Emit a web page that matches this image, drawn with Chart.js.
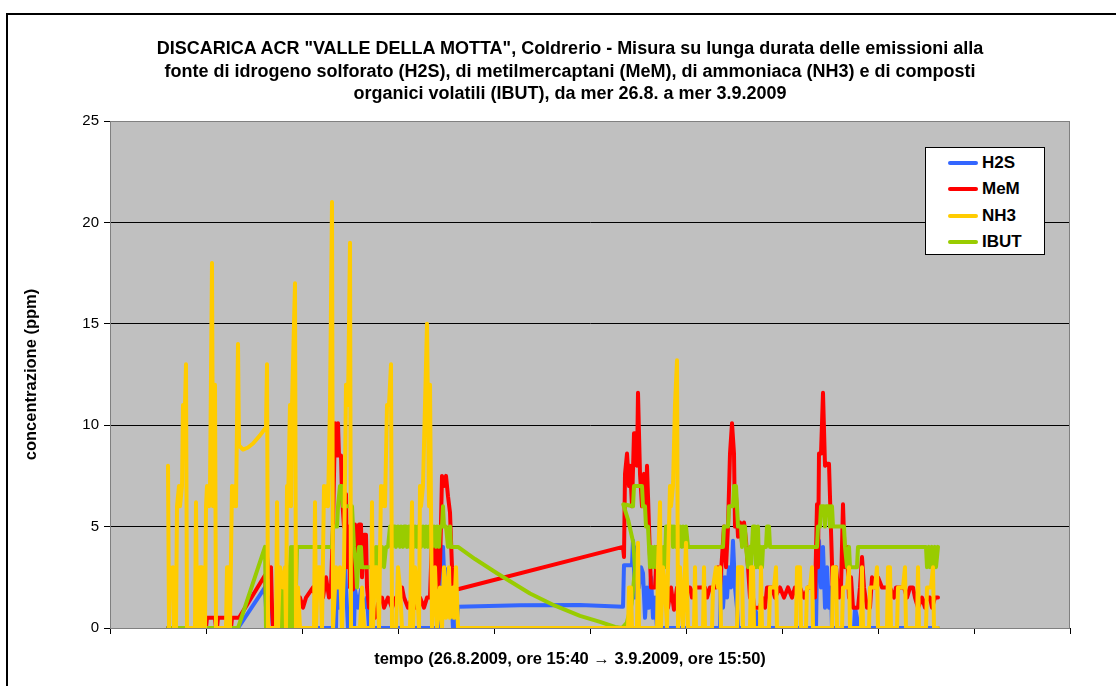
<!DOCTYPE html>
<html>
<head>
<meta charset="utf-8">
<script src="https://cdn.jsdelivr.net/npm/chart.js@4.4.0/dist/chart.umd.min.js"></script>
<style>
    html, body { margin: 0; padding: 0; background: #fff; overflow: hidden; }
    body { width: 1116px; height: 686px; position: relative; font-family: "Liberation Sans", Arial, sans-serif; }
    #frame { position: absolute; left: 6px; top: 13px; width: 1200px; height: 800px; border: 2px solid #000; }
    #chart { position: absolute; left: 0; top: 0; }
    #title { position: absolute; left: 0; top: 37px; width: 1140px; text-align: center; font-weight: bold; font-size: 18px; line-height: 22.5px; color: #000; }
    #xtitle { position: absolute; left: 0; top: 648px; width: 1140px; text-align: center; font-weight: bold; font-size: 16.5px; line-height: 20px; color: #000; }
    #legend { position: absolute; left: 925px; top: 147px; width: 118px; height: 106px; border: 1px solid #000; background: #fff; }
    .item { position: absolute; left: 0; height: 26px; line-height: 26px; font-weight: bold; font-size: 17px; color: #000; }
    .item span { position: absolute; left: 22px; top: 11px; width: 30px; height: 4px; border-radius: 2px; }
    .item b { position: absolute; left: 56px; top: 0; white-space: nowrap; }
</style>
</head>
<body>
<div id="frame"></div>
<canvas id="chart" width="1116" height="686"></canvas>
<div id="title">DISCARICA ACR "VALLE DELLA MOTTA", Coldrerio - Misura su lunga durata delle emissioni alla<br>fonte di idrogeno solforato (H2S), di metilmercaptani (MeM), di ammoniaca (NH3) e di composti<br>organici volatili (IBUT), da mer 26.8. a mer 3.9.2009</div>
<div id="xtitle">tempo (26.8.2009, ore 15:40 → 3.9.2009, ore 15:50)</div>
<div id="legend"></div>

<script>
// time in quarter hours from the axis start (one day = 96), values in ppm
const seriesNames = ["H2S", "MeM", "NH3", "IBUT"];
const seriesColors = ["#3366FF", "#FF0000", "#FFCC00", "#99CC00"];
const yTicks = [0, 5, 10, 15, 20, 25];

const h2sT = [58, 128, 155, 156, 158, 161, 163, 226, 227, 229, 231, 233, 235, 237, 238, 244, 245, 248, 251, 254, 257, 259,
    330, 331, 333, 335, 337, 339, 341, 343, 346, 348, 410, 470, 513, 514, 522, 523, 525, 527, 529, 531, 533, 535, 537, 539,
    541, 543, 545, 547, 610, 611, 613, 615, 617, 619, 621, 623, 625, 627, 628, 642, 643, 646, 647, 706, 707, 709, 711, 713,
    715, 717, 719, 721, 722, 744, 745, 747, 748, 828];
const h2sV = [0, 0, 2, 1, 1.5, 1.5, 0, 0, 2.9, 1, 2.9, 1.5, 2.9, 1, 0, 0, 1.9, 1, 1.9, 1, 1.5, 0,
    0, 2.9, 4, 1.5, 2.9, 1, 2, 0, 0, 1.05, 1.12, 1.13, 1.05, 3.1, 3.1, 4.3, 1.5, 4, 2, 3, 2.7, 0.5, 2, 1,
    2.5, 0.5, 1.5, 0, 0, 3, 1, 2.5, 1.5, 3, 2, 4.3, 2, 1, 0, 0, 0.8, 0.8, 0, 0, 3, 4.3, 2, 4,
    1, 3, 1, 2, 0, 0, 1, 0.5, 0, 0];

const memT = [58, 96, 97, 105, 106, 107, 108, 117, 118, 121, 122, 129, 155, 156, 157, 159, 161, 162, 163, 171, 172, 174,
    176, 178, 180, 190, 193, 196, 203, 206, 210, 213, 216, 219, 221, 223, 225, 227, 228, 229, 231, 232, 234, 236, 237, 239,
    240, 243, 245, 247, 249, 251, 252, 254, 256, 257, 259, 262, 265, 268, 272, 274, 278, 282, 286, 290, 292, 294, 298, 302,
    306, 310, 314, 317, 320, 322, 324, 326, 328, 330, 332, 334, 336, 338, 340, 342, 344, 346, 347,
    513, 514, 515, 517, 519, 520, 522, 524, 526, 527, 528, 530, 532, 534, 536, 537, 539, 541, 545, 547, 550, 555, 558, 561,
    564, 567, 580, 582, 585, 595, 597, 600, 606, 608, 610, 612, 614, 616, 618, 620, 622, 624, 625, 626, 628, 630, 632, 634,
    636, 638, 640, 642, 644, 650, 652, 655, 657, 662, 665, 670, 674, 678, 682, 685, 690, 694, 698, 703, 705, 707, 708, 709,
    711, 713, 715, 717, 719, 721, 723, 726, 729, 731, 733, 735, 737, 739, 741, 743, 748, 750, 752, 754, 757, 760, 762, 765,
    768, 772, 776, 780, 784, 786, 794, 797, 800, 803, 805, 808, 812, 815, 817, 820, 822, 825, 828];
const memV = [0, 0, 0.5, 0.5, 0, 0, 0.5, 0.5, 0, 0, 0.5, 0.5, 2.6, 1.5, 3.5, 2.5, 3, 1, 0, 0, 1.5, 2,
    1, 2, 1.5, 1.5, 1, 1.5, 2, 1.5, 2.5, 1.5, 2.5, 1.5, 2, 5, 10.1, 8.5, 10.1, 8.5, 8.5, 6.5, 5, 6.6, 3, 5,
    2, 1.9, 5.1, 3, 5.1, 5.1, 2.5, 4.6, 4.6, 2, 1, 1.2, 0.5, 1.2, 1.5, 1, 1.5, 1, 1.5, 1.5, 2, 1.5, 1, 1.5,
    1, 1.5, 1, 1.5, 1.5, 4.5, 3, 4.5, 2, 3, 7.5, 7, 7.5, 6.5, 5.7, 3, 1.5, 2, 1.9,
    4, 3.5, 7.6, 8.6, 7, 8, 6, 9.6, 9.6, 8, 11.6, 7.6, 6, 7.6, 6, 8, 5, 2, 2, 4, 2, 2, 1, 2,
    0.9, 2, 2, 1.5, 2, 2, 1.5, 2, 2, 3, 2, 3.5, 5, 3, 5, 8.6, 10.1, 8.6, 5, 6.5, 4.5, 5.2, 4.2, 5.2,
    4.3, 3, 1.5, 2, 1, 1, 1.5, 1, 2, 2, 1.5, 2, 1.5, 2, 1.5, 2, 2, 1.5, 2, 2, 1.5, 6.1, 3, 8.6,
    8.6, 11.6, 8, 8.1, 8.1, 4.8, 1.5, 3, 1.5, 2, 6.1, 3, 4, 1.5, 2.5, 1, 1, 2, 3.5, 2, 1, 1, 2.5, 2,
    2.5, 2, 2, 2, 1.5, 2, 2, 1.5, 2, 2, 1.5, 1, 1.5, 1, 1.5, 1.5, 1, 1.5, 1.5];

const nh3T = [58, 59, 60, 62, 63, 64, 66, 67, 69, 70, 72, 73, 75, 76, 77,
    85, 86, 87, 89, 90, 92, 93, 95, 96, 97, 99, 100, 102, 103, 105, 106,
    116, 117, 119, 120, 122, 123, 125, 126, 128, 129, 133, 138, 143, 150, 156, 157, 158,
    166, 167, 168, 170, 173, 175, 176, 177, 178, 180, 181, 182, 185, 186, 188, 190,
    204, 205, 206, 208, 210, 212, 214, 215, 217, 218, 220, 222, 223, 226, 228, 230, 232, 234, 236, 238, 240, 241,
    250, 252, 254, 261, 262, 263, 265, 267, 269, 271, 272, 274, 275, 277, 279, 281, 282,
    286, 288, 290, 292, 300, 302, 303, 305, 307, 309, 310, 311, 313, 315, 317, 319, 320, 322,
    325, 327, 330, 332, 334, 336, 339, 340, 343, 344, 346, 348,
    515, 518, 519, 521, 522, 527, 528, 529,
    547, 548, 550, 551, 553, 555, 557, 558, 560, 561, 563, 565, 567, 568,
    570, 573, 576, 578, 584, 585, 586, 593, 594, 595, 602, 603, 606, 608, 610, 611,
    627, 628, 632, 633, 640, 641, 643, 644, 650, 651, 652, 659, 660, 664, 666, 667,
    686, 687, 690, 691, 696, 697, 700, 702, 703, 722, 723, 726, 727, 732, 733, 737, 739, 740,
    751, 752, 753, 759, 760, 765, 767, 768, 777, 778, 780, 781, 787, 788, 793, 795, 796,
    807, 808, 809, 816, 817, 821, 823, 824, 828];
const nh3V = [8, 0, 3, 2, 3, 0, 0, 6, 7, 6, 7, 11, 11, 13, 0,
    0, 6.2, 0, 0, 3, 3, 0, 0, 6, 7, 6, 7, 18, 6, 12, 0,
    0, 3, 3, 0, 7, 6, 7, 6, 14, 9, 8.8, 8.9, 9.1, 9.5, 9.9, 13, 0,
    0, 6.2, 0, 3, 2, 3, 0, 7, 6, 11, 6, 11, 17, 0, 2, 0,
    0, 6.2, 0, 3, 3, 0, 7, 6, 7, 6, 11, 21, 0, 3, 2, 3, 0, 3, 12, 11, 19, 0,
    0, 2, 0, 0, 6.2, 0, 3, 3, 0, 7, 6, 7, 6, 11, 11, 13, 0,
    0, 3, 2, 0, 0, 6.2, 0, 3, 2, 0, 7, 6, 7, 11, 15, 6, 12, 0,
    3, 0, 2, 0, 3, 0.5, 3, 0.5, 2, 0.5, 3, 0,
    0, 0, 2, 2, 0, 0, 4.2, 0,
    0, 3, 6.2, 0, 3, 2, 0, 3, 7, 6, 7, 11, 13.2, 0,
    3, 0, 4.2, 0, 0, 3, 0, 0, 3, 0, 0, 2, 3, 2, 3, 0,
    0, 3, 3, 0, 0, 3, 3, 0, 0, 3, 0, 0, 2, 2, 3, 0,
    0, 3, 3, 0, 0, 2, 2, 3, 0, 0, 3, 3, 0, 0, 2, 2, 3, 0,
    0, 3, 0, 0, 2, 2, 3, 0, 0, 3, 3, 0, 0, 2, 2, 3, 0,
    0, 3, 0, 0, 2, 2, 3, 0, 0];

const ibutT = [58, 128, 155, 156, 168, 169, 170, 171, 173, 174, 175, 177, 178, 179, 180, 181, 182, 183, 184, 185, 186, 187,
    222, 223, 227, 228, 230, 232, 233, 242, 243, 244, 246, 247, 249, 250, 251, 252, 265, 266, 267, 269, 270, 272, 274, 276,
    278, 280, 282, 283, 285, 286, 288, 290, 291, 293, 294, 296, 297, 299, 300, 302, 304, 305, 307, 308, 310, 311, 313, 315,
    316, 318, 319, 321, 322, 324, 326, 327, 329, 330, 332, 333, 334, 336, 338, 340, 341, 348,
    365, 387, 420, 445, 470, 490, 505, 512, 516.7, 521.7, 525, 523.3, 518.3, 513.3,
    523, 524, 532, 533, 535, 536, 538, 539, 540, 542, 543, 545, 546, 548, 549, 551, 552, 554, 555, 556, 562, 563, 564, 566,
    567, 569, 570, 572, 573, 575, 576, 578, 613, 614, 618, 619, 623, 624, 626, 627, 628, 631, 632, 633, 635, 636, 638, 640,
    641, 643, 645, 646, 648, 649, 651, 652, 653, 656, 657, 659, 660, 707, 708, 710, 711, 714, 715, 716, 719, 720, 721, 722,
    723, 734, 735, 737, 739, 740, 747, 748, 816, 817, 819, 820, 822, 823, 825, 826, 828];
const ibutV = [0, 0, 4, 0, 0, 2, 0, 2, 2, 0, 2, 2, 3, 0, 3, 4, 0, 4, 0, 4, 2, 4,
    4, 5, 5, 6, 7, 7, 6, 6, 5, 4, 3, 2, 4, 3, 4, 3, 3, 4, 3, 4, 3, 4, 3, 4,
    4, 5, 4, 5, 5, 4, 5, 4, 5, 4, 5, 5, 4, 5, 4, 5, 4, 5, 4, 5, 5, 4, 5, 4,
    5, 4, 5, 5, 4, 5, 4, 5, 4, 5, 5, 6, 5, 5, 4, 5, 4, 4,
    3.4, 2.7, 1.7, 1.1, 0.6, 0.3, 0.05, 0, 0.25, 1.2, 2.9, 4.2, 5.3, 6.1,
    6, 7, 7, 6, 6, 5, 5, 4, 3, 4, 3, 4, 3, 4, 3, 4, 3, 4, 3, 5, 5, 4, 5, 4,
    5, 4, 5, 4, 5, 4, 5, 4, 4, 5, 5, 6, 6, 7, 7, 6, 5, 5, 4, 5, 5, 4, 3, 4,
    3, 5, 5, 3, 5, 3, 4, 3, 4, 4, 5, 5, 4, 4, 5, 5, 6, 6, 5, 6, 6, 5, 6, 6,
    5, 5, 4, 3, 4, 3, 3, 4, 4, 3, 4, 3, 4, 3, 4, 3, 4];

// ======================
// Build datasets
// ======================
function toPoints(t, v) {
    return t.map((x, i) => ({ x: x, y: v[i] }));
}

const seriesData = [toPoints(h2sT, h2sV), toPoints(memT, memV), toPoints(nh3T, nh3V), toPoints(ibutT, ibutV)];
const drawOrder = [4, 3, 1, 2]; // H2S at the back, NH3 on top

const datasets = seriesNames.map((name, i) => ({
    label: name,
    data: seriesData[i],
    borderColor: seriesColors[i],
    backgroundColor: seriesColors[i],
    borderWidth: 4,
    pointRadius: 0,
    tension: 0,
    fill: false,
    borderJoinStyle: "round",
    borderCapStyle: "round",
    order: drawOrder[i]
}));

// grey plot area + its border
const plotArea = {
    id: "plotArea",
    beforeDraw(chart) {
        const { ctx, chartArea: a } = chart;
        ctx.save();
        ctx.fillStyle = "#C0C0C0";
        ctx.fillRect(a.left, a.top, a.right - a.left, a.bottom - a.top);
        ctx.restore();
    },
    beforeDatasetsDraw(chart) {
        const { ctx, chartArea: a } = chart;
        ctx.save();
        ctx.strokeStyle = "#808080";
        ctx.lineWidth = 1;
        ctx.strokeRect(a.left + 0.5, a.top + 0.5, a.right - a.left - 1, a.bottom - a.top);
        ctx.restore();
    }
};

new Chart(document.getElementById("chart"), {
    type: "line",
    data: { datasets: datasets },
    options: {
        responsive: false,
        animation: false,
        layout: { padding: { top: 121, right: 46, bottom: 0, left: 0 } },
        plugins: {
            legend: { display: false },
            tooltip: { enabled: false },
            title: { display: false }
        },
        scales: {
            x: {
                type: "linear",
                min: 0,
                max: 960,
                afterFit(scale) { scale.height = 58; },
                ticks: { display: false, stepSize: 96, autoSkip: false },
                grid: { drawOnChartArea: false, drawTicks: true, tickLength: 6, color: "#000" },
                border: { color: "#000", width: 1 }
            },
            y: {
                min: 0,
                max: 25,
                afterFit(scale) { scale.width = 110; },
                afterBuildTicks(scale) { scale.ticks = yTicks.map(v => ({ value: v })); },
                ticks: { color: "#000", padding: 5, font: { family: "'Liberation Sans', Arial, sans-serif", size: 15 } },
                grid: { color: "#000", lineWidth: 1, tickLength: 6 },
                border: { color: "#000", width: 1 },
                title: {
                    display: true,
                    text: "concentrazione (ppm)",
                    color: "#000",
                    padding: { top: 22 },
                    font: { family: "'Liberation Sans', Arial, sans-serif", size: 16.5, weight: "bold" }
                }
            }
        }
    },
    plugins: [plotArea]
});

// ======================
// Legend box
// ======================
const legend = document.getElementById("legend");
seriesNames.forEach((name, i) => {
    const row = document.createElement("div");
    row.className = "item";
    row.style.top = (2 + i * 26.3) + "px";
    row.innerHTML = '<span style="background:' + seriesColors[i] + '"></span><b>' + name + "</b>";
    legend.appendChild(row);
});
</script>
</body>
</html>
